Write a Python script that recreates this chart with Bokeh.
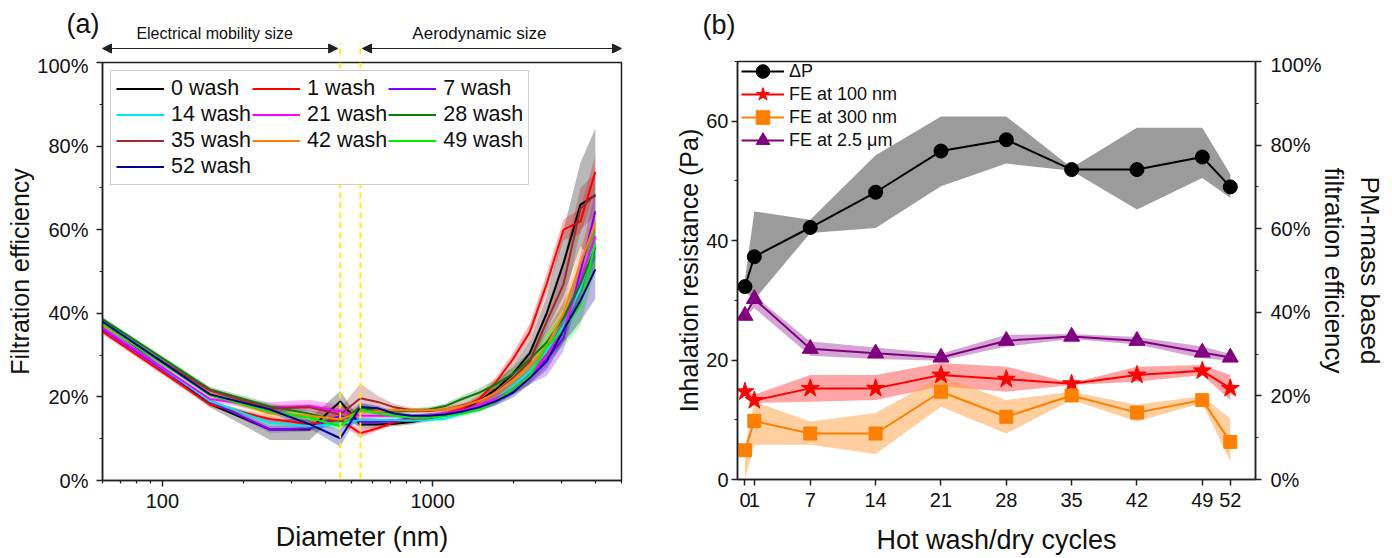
from bokeh.plotting import figure
from bokeh.models import (Range1d, LinearAxis, SingleIntervalTicker, FixedTicker, Span,
                          PrintfTickFormatter, Legend, LegendItem, Label, Arrow, NormalHead)
from bokeh.layouts import row, column
from bokeh.embed import file_html
from bokeh.resources import INLINE

FONT = "Liberation Sans"

# ---------------- Panel (a) data ----------------
diam = [60, 150, 250, 350, 455, 540, 626, 723, 835, 965, 1114, 1286, 1486, 1715,
        1981, 2288, 2642, 3051, 3523, 4000]
wash_labels = ["0 wash", "1 wash", "7 wash", "14 wash", "21 wash", "28 wash",
               "35 wash", "42 wash", "49 wash", "52 wash"]
wash_colors = ["#000000", "#ff0000", "#8000ff", "#00e5ee", "#ff00ff", "#0a7a0a",
               "#9e2a2a", "#ff8000", "#00ee00", "#000090"]
fe_w0 = [37.6, 18.3, 12.2, 12.2, 18.9, 13.4, 13.4, 13.6, 14.0, 14.8, 15.8, 17.0, 19.0, 21.8, 25.5, 30.5, 40.0, 52.0, 66.0, 68.2]
fe_w1 = [35.6, 18.2, 14.7, 13.5, 14.5, 11.3, 12.5, 14.0, 14.5, 15.0, 16.0, 17.2, 19.5, 23.5, 29.0, 35.5, 47.0, 60.0, 62.0, 73.8]
fe_w7 = [36.2, 19.0, 12.2, 12.5, 15.5, 14.0, 14.0, 14.2, 15.0, 15.5, 15.8, 16.5, 17.5, 19.5, 22.0, 25.0, 29.0, 34.0, 50.0, 64.4]
fe_w14 = [37.0, 19.0, 13.8, 13.0, 13.5, 14.5, 14.5, 14.5, 14.3, 14.5, 14.8, 16.0, 17.5, 19.5, 22.5, 26.0, 31.0, 37.0, 46.0, 57.0]
fe_w21 = [36.5, 19.5, 17.5, 17.8, 16.5, 15.5, 15.5, 15.5, 15.2, 15.5, 16.0, 16.8, 18.0, 19.5, 22.0, 25.0, 30.0, 36.0, 48.0, 58.4]
fe_w28 = [38.6, 21.8, 17.7, 16.0, 14.2, 17.5, 16.5, 16.5, 16.7, 17.0, 17.8, 19.5, 21.0, 23.0, 25.5, 29.0, 33.0, 39.0, 47.0, 55.8]
fe_w35 = [37.3, 21.5, 17.2, 17.5, 15.8, 19.7, 18.8, 17.5, 16.8, 16.6, 17.0, 18.0, 19.0, 21.0, 24.5, 28.5, 38.0, 47.0, 65.0, 68.5]
fe_w42 = [37.2, 20.8, 16.0, 15.5, 14.6, 16.5, 16.5, 16.8, 16.8, 16.8, 17.0, 17.8, 19.0, 21.0, 24.0, 27.5, 32.0, 40.0, 52.0, 61.6]
fe_w49 = [37.6, 20.4, 16.5, 15.0, 13.0, 17.0, 16.0, 15.5, 15.0, 15.0, 15.5, 16.0, 17.0, 19.0, 22.0, 25.0, 32.0, 36.0, 42.0, 56.8]
fe_w52 = [38.0, 20.6, 17.0, 13.5, 10.1, 17.6, 17.3, 16.0, 15.5, 15.5, 15.8, 16.5, 17.5, 19.0, 21.0, 24.5, 28.5, 36.0, 43.0, 50.5]

err_w0 = [0.8, 0.8, 2.5, 2.5, 2.5, 1.0, 0.8, 0.6, 0.6, 0.6, 0.6, 0.8, 1.0, 1.5, 2.0, 3.0, 4.0, 8.0, 10.0, 16.0]
err_w1 = [0.6, 0.6, 0.8, 0.8, 0.8, 1.0, 0.6, 0.6, 0.6, 0.6, 0.6, 0.8, 1.0, 1.2, 1.5, 2.0, 2.5, 2.5, 3.0, 4.0]
err_w7 = [0.6, 0.6, 0.8, 0.8, 1.0, 1.0, 0.8, 0.6, 0.6, 0.6, 0.6, 0.8, 1.0, 1.2, 1.5, 2.0, 4.0, 3.0, 4.0, 5.0]
err_w14 = [0.5, 0.5, 0.6, 0.6, 0.8, 0.8, 0.6, 0.5, 0.5, 0.5, 0.5, 0.6, 0.8, 1.0, 1.2, 1.5, 2.0, 2.5, 3.0, 4.0]
err_w21 = [0.6, 0.6, 1.2, 1.5, 1.5, 1.0, 0.6, 0.6, 0.6, 0.6, 0.6, 0.8, 1.0, 1.2, 1.5, 2.0, 2.5, 3.0, 4.0, 5.0]
err_w28 = [0.6, 0.6, 0.8, 0.8, 1.0, 1.0, 0.6, 0.6, 0.6, 0.6, 0.6, 0.8, 1.0, 1.2, 1.5, 2.0, 3.0, 3.5, 4.0, 5.0]
err_w35 = [0.6, 0.6, 0.8, 0.8, 1.5, 3.5, 1.5, 0.8, 0.6, 0.6, 0.6, 0.8, 1.0, 1.2, 1.5, 2.0, 3.0, 6.0, 5.0, 5.0]
err_w42 = [0.5, 0.5, 0.8, 0.8, 1.0, 1.0, 0.6, 0.5, 0.5, 0.5, 0.5, 0.6, 0.8, 1.0, 1.2, 1.5, 2.0, 3.0, 4.0, 4.0]
err_w49 = [0.5, 0.5, 0.8, 0.8, 1.0, 1.0, 0.6, 0.5, 0.5, 0.5, 0.5, 0.6, 0.8, 1.0, 1.5, 2.0, 3.0, 4.0, 5.0, 6.0]
err_w52 = [0.5, 0.5, 0.8, 1.0, 2.0, 1.0, 0.6, 0.5, 0.5, 0.5, 0.5, 0.6, 0.8, 1.0, 1.2, 1.5, 2.0, 3.0, 5.0, 7.0]

fe_series = [fe_w0, fe_w1, fe_w7, fe_w14, fe_w21, fe_w28, fe_w35, fe_w42, fe_w49, fe_w52]
err_series = [err_w0, err_w1, err_w7, err_w14, err_w21, err_w28, err_w35, err_w42, err_w49, err_w52]

size_edges = [455, 540]   # end of mobility range / start of aerodynamic range (nm)

# ---------------- Panel (b) data ----------------
cycles = [0, 1, 7, 14, 21, 28, 35, 42, 49, 52]
cycle_ticks = [0, 1, 7, 14, 21, 28, 35, 42, 49, 52]
dp = [32.3, 37.3, 42.2, 48.1, 55.0, 56.9, 51.9, 51.9, 54.0, 49.0]
dp_hi = [33.5, 44.9, 43.5, 54.3, 60.8, 60.8, 52.2, 58.9, 58.9, 51.1]
dp_lo = [31.5, 30.1, 41.3, 42.1, 49.1, 52.9, 51.7, 45.2, 50.5, 47.2]
fe100 = [21.0, 18.9, 21.8, 21.8, 25.0, 24.0, 22.9, 25.0, 26.0, 21.8]
fe100_hi = [21.5, 20.3, 25.0, 25.0, 27.9, 27.0, 23.1, 27.0, 27.4, 25.0]
fe100_lo = [20.5, 18.3, 18.6, 19.0, 22.3, 21.0, 22.6, 23.4, 25.0, 19.0]
fe300 = [7.0, 14.0, 11.0, 11.0, 21.0, 15.0, 20.1, 16.0, 19.0, 9.0]
fe300_hi = [7.5, 18.6, 13.9, 15.9, 24.6, 19.0, 21.0, 17.9, 19.9, 14.6]
fe300_lo = [0.0, 8.3, 8.3, 6.1, 17.4, 11.0, 19.0, 13.9, 18.3, 4.3]
fe25 = [39.2, 43.2, 31.3, 30.2, 29.2, 33.2, 34.2, 33.2, 30.4, 29.2]
fe25_hi = [39.6, 44.0, 33.0, 31.6, 30.1, 34.6, 34.8, 34.1, 31.8, 30.0]
fe25_lo = [38.8, 41.0, 29.6, 28.8, 28.4, 31.8, 33.6, 32.3, 29.0, 28.4]


def style_axis(ax, label_size="25px"):
    ax.axis_label_text_font = FONT
    ax.axis_label_text_font_style = "normal"
    ax.axis_label_text_font_size = label_size
    ax.axis_label_text_color = "#111111"
    ax.major_label_text_font = FONT
    ax.major_label_text_font_size = "20px"
    ax.major_label_text_color = "#111111"
    ax.axis_line_width = 1.5
    ax.axis_line_color = "#222222"
    ax.major_tick_line_width = 1.5
    ax.minor_tick_line_width = 1.2
    ax.major_tick_line_color = "#222222"
    ax.minor_tick_line_color = "#222222"
    ax.major_tick_in = 0
    ax.major_tick_out = 6
    ax.minor_tick_in = 0
    ax.minor_tick_out = 3


def panel_tag(ax, ypos, text, standoff):
    # the panel letter is drawn as the single tick label of an otherwise invisible axis
    ax.ticker = FixedTicker(ticks=[ypos], minor_ticks=[])
    ax.major_label_overrides = {ypos: text}
    ax.major_label_text_font = FONT
    ax.major_label_text_font_size = "27px"
    ax.major_label_text_color = "#111111"
    ax.major_label_standoff = standoff
    ax.axis_line_color = None
    ax.major_tick_line_color = None
    ax.minor_tick_line_color = None


def head():
    return NormalHead(size=9, fill_color="#222222", line_color="#222222", line_width=1)


A_LEFT, A_FRAME, A_RIGHT = 102, 519, 47
B_LEFT, B_FRAME, B_RIGHT = 69, 518, 125

# ---------------- Panel (a): header strip ----------------
SA_H = 54
sa = figure(x_axis_type="log", x_range=Range1d(60, 5000), y_range=Range1d(0, SA_H),
            frame_width=A_FRAME, frame_height=SA_H,
            min_border_left=A_LEFT, min_border_right=A_RIGHT, min_border_top=0,
            min_border_bottom=0, x_axis_location=None, y_axis_location="left",
            output_backend="svg", toolbar_location=None)
sa.outline_line_color = None
sa.grid.visible = False
panel_tag(sa.yaxis[0], 31, "(a)", -3)
sa.segment(x0=size_edges, y0=[0, 0], x1=size_edges, y1=[11, 11],
           line_color="#ffee00", line_width=1.8, line_dash="6 4")
sa.add_layout(Arrow(start=head(), end=head(), x_start=60, y_start=6, x_end=445, y_end=6,
                    line_color="#222222", line_width=1.2))
sa.add_layout(Arrow(start=head(), end=head(), x_start=550, y_start=6, x_end=5000, y_end=6,
                    line_color="#222222", line_width=1.2))
sa.add_layout(Label(x=156, y=21, text="Electrical mobility size", text_align="center",
                    text_baseline="middle", text_font=FONT, text_font_size="16px",
                    text_color="#111111"))
sa.add_layout(Label(x=1490, y=21, text="Aerodynamic size", text_align="center",
                    text_baseline="middle", text_font=FONT, text_font_size="17px",
                    text_color="#111111"))

# ---------------- Panel (a) ----------------
p1 = figure(x_axis_type="log", x_range=Range1d(60, 5000), y_range=Range1d(0, 100),
            frame_width=A_FRAME, frame_height=418,
            min_border_left=A_LEFT, min_border_right=A_RIGHT, min_border_top=8,
            min_border_bottom=72, output_backend="svg", toolbar_location=None)
p1.grid.visible = False
p1.outline_line_color = "#222222"
p1.outline_line_width = 1.5

for vals, errs, col in zip(fe_series, err_series, wash_colors):
    lo = [v - e for v, e in zip(vals, errs)]
    hi = [v + e for v, e in zip(vals, errs)]
    p1.varea(x=diam, y1=lo, y2=hi, fill_color=col, fill_alpha=0.28)

items = []
for vals, col, lab in zip(fe_series, wash_colors, wash_labels):
    r = p1.line(diam, vals, line_color=col, line_width=2)
    items.append(LegendItem(label=lab, renderers=[r]))

for xe in size_edges:
    p1.add_layout(Span(location=xe, dimension="height", line_color="#ffee00",
                       line_width=1.8, line_dash="6 4"))

leg1 = Legend(items=items, location="top_left", orientation="horizontal", ncols=3,
              label_text_font=FONT, label_text_font_size="21.5px", label_text_color="#111111",
              glyph_width=48, glyph_height=21, label_height=21, label_standoff=7,
              spacing=1, padding=5, margin=8,
              border_line_color="#a0a0a0", border_line_width=1.2,
              background_fill_alpha=1.0)
p1.add_layout(leg1)

p1.xaxis.ticker = FixedTicker(ticks=[100, 1000],
                              minor_ticks=[60, 70, 80, 90, 200, 300, 400, 500, 600, 700, 800,
                                           900, 2000, 3000, 4000, 5000])
p1.xaxis.formatter = PrintfTickFormatter(format="%d")
p1.yaxis.ticker = SingleIntervalTicker(interval=20, num_minor_ticks=2)
p1.yaxis.formatter = PrintfTickFormatter(format="%d%%")
p1.xaxis.axis_label = "Diameter (nm)"
p1.yaxis.axis_label = "Filtration efficiency"
for ax in p1.xaxis + p1.yaxis:
    style_axis(ax)
p1.xaxis.axis_label_text_font_size = "27px"
p1.xaxis.major_label_standoff = 7
p1.xaxis.axis_label_standoff = 11
p1.yaxis.major_label_standoff = 8
p1.yaxis.axis_label_standoff = 0

# ---------------- Panel (b): header strip ----------------
SB_H = 53
sb = figure(x_range=Range1d(-0.8, 54.7), y_range=Range1d(0, SB_H),
            frame_width=B_FRAME, frame_height=SB_H,
            min_border_left=B_LEFT, min_border_right=B_RIGHT, min_border_top=0,
            min_border_bottom=0, x_axis_location=None, y_axis_location="left",
            output_backend="svg", toolbar_location=None)
sb.outline_line_color = None
sb.grid.visible = False
panel_tag(sb.yaxis[0], 29, "(b)", -4)

# ---------------- Panel (b) ----------------
p2 = figure(x_range=Range1d(-0.8, 54.7), y_range=Range1d(0, 70),
            frame_width=B_FRAME, frame_height=418,
            min_border_left=B_LEFT, min_border_right=B_RIGHT, min_border_top=8,
            min_border_bottom=74, output_backend="svg", toolbar_location=None)
p2.extra_y_ranges = {"pct": Range1d(0, 100)}
p2.grid.visible = False
p2.outline_line_color = "#222222"
p2.outline_line_width = 1.5

p2.varea(x=cycles, y1=dp_lo, y2=dp_hi, fill_color="#8a8a8a", fill_alpha=0.85)
p2.varea(x=cycles, y1=fe25_lo, y2=fe25_hi, fill_color="#a64ca6", fill_alpha=0.5,
         y_range_name="pct")
p2.varea(x=cycles, y1=fe100_lo, y2=fe100_hi, fill_color="#ff4c4c", fill_alpha=0.5,
         y_range_name="pct")
p2.varea(x=cycles, y1=fe300_lo, y2=fe300_hi, fill_color="#ffa040", fill_alpha=0.5,
         y_range_name="pct")

l_dp = p2.line(cycles, dp, line_color="#000000", line_width=2)
m_dp = p2.scatter(cycles, dp, marker="circle", size=14, fill_color="#000000", line_color="#000000")
l_25 = p2.line(cycles, fe25, line_color="#800080", line_width=2, y_range_name="pct")
m_25 = p2.scatter(cycles, fe25, marker="triangle", size=16, fill_color="#800080",
                  line_color="#800080", y_range_name="pct")
l_100 = p2.line(cycles, fe100, line_color="#ff0000", line_width=2, y_range_name="pct")
m_100 = p2.scatter(cycles, fe100, marker="star", size=19, fill_color="#ff0000",
                   line_color="#ff0000", y_range_name="pct")
l_300 = p2.line(cycles, fe300, line_color="#ff7f00", line_width=2, y_range_name="pct")
m_300 = p2.scatter(cycles, fe300, marker="square", size=13, fill_color="#ff7f00",
                   line_color="#ff7f00", y_range_name="pct")

legend_entries = [("ΔP", [l_dp, m_dp]), ("FE at 100 nm", [l_100, m_100]),
                  ("FE at 300 nm", [l_300, m_300]), ("FE at 2.5 μm", [l_25, m_25])]
for i, (lab, rends) in enumerate(legend_entries):
    lg = Legend(items=[LegendItem(label=lab, renderers=rends)],
                location=(4, 391 - 23 * i), label_text_font=FONT, label_text_font_size="18px",
                label_text_color="#111111", glyph_width=43, glyph_height=34, label_height=34,
                label_standoff=5, spacing=0, padding=0, margin=0,
                border_line_alpha=0, background_fill_alpha=0)
    p2.add_layout(lg)

p2.xaxis.ticker = FixedTicker(ticks=cycle_ticks, minor_ticks=[])
p2.yaxis.ticker = SingleIntervalTicker(interval=20, num_minor_ticks=2)
p2.xaxis.axis_label = "Hot wash/dry cycles"
p2.yaxis.axis_label = "Inhalation resistance (Pa)"

rax = LinearAxis(y_range_name="pct", ticker=SingleIntervalTicker(interval=20, num_minor_ticks=2),
                 formatter=PrintfTickFormatter(format="%d%%"),
                 axis_label="PM-mass based\nfiltration efficiency")
p2.add_layout(rax, "right")
for ax in p2.xaxis + p2.yaxis + [rax]:
    style_axis(ax)
p2.xaxis.axis_label_text_font_size = "27px"
rax.axis_label_text_font_size = "26px"
p2.xaxis.major_label_standoff = 7
p2.xaxis.axis_label_standoff = 15
p2.yaxis[0].major_label_standoff = 3
p2.yaxis[0].axis_label_standoff = 0
rax.major_label_standoff = 9
rax.axis_label_standoff = -6

layout = row(column(sa, p1), column(sb, p2))
open("out.html", "w").write(file_html(layout, INLINE))
